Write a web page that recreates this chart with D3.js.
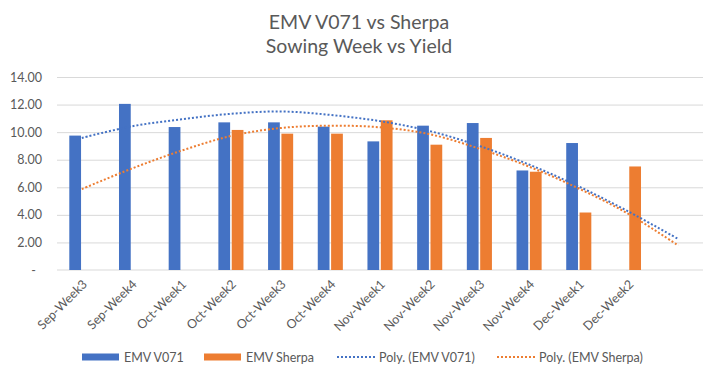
<!DOCTYPE html>
<html>
<head>
<meta charset="utf-8">
<script src="https://cdn.jsdelivr.net/npm/d3@7"></script>
<style>
  body { margin: 0; background: #fff; }
  text { font-family: Lato, "Open Sans", sans-serif; fill: #595959; }
</style>
</head>
<body>
<div id="chart"></div>
<script>
// Sowing weeks (the trendline runs one period past the last week)
const weeks = ["Sep-Week3", "Sep-Week4", "Oct-Week1", "Oct-Week2", "Oct-Week3", "Oct-Week4",
  "Nov-Week1", "Nov-Week2", "Nov-Week3", "Nov-Week4", "Dec-Week1", "Dec-Week2"];

// Yield per week
const v071 = [9.75, 12.05, 10.37, 10.71, 10.71, 10.4, 9.33, 10.47, 10.66, 7.22, 9.21, null];
const sherpa = [null, null, null, 10.16, 9.89, 9.89, 10.86, 9.09, 9.58, 7.13, 4.17, 7.51];

// Polynomial trendlines (13 periods)
const v071Trend = [9.58, 10.42, 10.93, 11.33, 11.5, 11.25, 10.8, 10.08, 9.0, 7.65, 6.06, 4.24, 2.25];
const sherpaTrend = [5.87, 7.35, 8.65, 9.72, 10.3, 10.47, 10.35, 9.85, 8.8, 7.5, 5.91, 4.07, 1.78];

const yTicks = [0, 2, 4, 6, 8, 10, 12, 14];

const width = 717, height = 376;
const margin = { top: 77, right: 14, bottom: 106, left: 57 };
const blue = "#4472C4", orange = "#ED7D31";

const svg = d3.select("#chart").append("svg")
    .attr("width", width)
    .attr("height", height);

// Title
const title = svg.append("text")
    .attr("text-anchor", "middle")
    .attr("font-size", 19.5);
title.append("tspan").attr("x", 359).attr("y", 29).text("EMV V071 vs Sherpa");
title.append("tspan").attr("x", 359).attr("y", 53).text("Sowing Week vs Yield");

const slots = weeks.concat([""]);
const x = d3.scaleBand()
    .domain(slots)
    .range([margin.left, width - margin.right]);

const inner = d3.scaleBand()
    .domain(["v071", "sherpa"])
    .range([12.3, x.bandwidth() - 12.3])
    .paddingInner(0.12);

const y = d3.scaleLinear()
    .domain([0, 14])
    .range([height - margin.bottom, margin.top]);

// Gridlines
svg.append("g")
    .attr("transform", `translate(${margin.left},0)`)
    .call(d3.axisLeft(y).tickValues(yTicks.slice(1)).tickSize(-(width - margin.left - margin.right)).tickFormat(""))
    .call(g => g.select(".domain").remove())
    .call(g => g.selectAll("line").attr("stroke", "#d9d9d9"));

// Y labels
svg.append("g")
    .attr("transform", `translate(42,0)`)
    .call(d3.axisLeft(y).tickValues(yTicks).tickSize(0).tickPadding(0)
      .tickFormat(d => d === 0 ? "-" : d3.format(".2f")(d)))
    .call(g => g.select(".domain").remove())
    .call(g => g.selectAll("text").attr("font-size", 12.5).attr("fill", "#595959").attr("font-family", "Lato"))
    .call(g => g.selectAll("text").filter(d => d === 0).attr("dx", -6));

// Baseline
svg.append("line")
    .attr("x1", margin.left).attr("x2", width - margin.right)
    .attr("y1", y(0)).attr("y2", y(0))
    .attr("stroke", "#d9d9d9");

// Bars
const series = [
  { key: "v071", values: v071, color: blue },
  { key: "sherpa", values: sherpa, color: orange }
];

series.forEach(s => {
  svg.append("g")
    .selectAll("rect")
    .data(weeks.map((w, i) => ({ week: w, value: s.values[i] })).filter(d => d.value != null))
    .enter()
    .append("rect")
    .attr("x", d => x(d.week) + inner(s.key))
    .attr("width", inner.bandwidth())
    .attr("y", d => y(d.value))
    .attr("height", d => y(0) - y(d.value))
    .attr("fill", s.color);
});

// Trendlines
const line = d3.line()
    .x((d, i) => x(slots[i]) + x.bandwidth() / 2)
    .y(d => y(d))
    .curve(d3.curveCatmullRom);

[{ values: v071Trend, color: blue }, { values: sherpaTrend, color: orange }].forEach(t => {
  svg.append("path")
    .datum(t.values)
    .attr("d", line)
    .attr("fill", "none")
    .attr("stroke", t.color)
    .attr("stroke-width", 2)
    .attr("stroke-dasharray", "2 2");
});

// X labels
svg.append("g")
    .selectAll("text")
    .data(weeks)
    .enter()
    .append("text")
    .attr("text-anchor", "end")
    .attr("font-size", 12.5)
    .attr("transform", d => `translate(${x(d) + x.bandwidth() / 2 + 6},${y(0) + 15}) rotate(-45)`)
    .text(d => d);

// Legend
const legend = [
  { label: "EMV V071", color: blue, type: "bar", x: 82 },
  { label: "EMV Sherpa", color: orange, type: "bar", x: 204 },
  { label: "Poly. (EMV V071)", color: blue, type: "line", x: 337 },
  { label: "Poly. (EMV Sherpa)", color: orange, type: "line", x: 497 }
];

const lg = svg.append("g").attr("transform", "translate(0,357)");
legend.forEach(item => {
  if (item.type === "bar") {
    lg.append("rect").attr("x", item.x).attr("y", -3.5).attr("width", 37).attr("height", 7).attr("fill", item.color);
  } else {
    lg.append("line").attr("x1", item.x).attr("x2", item.x + 38).attr("y1", 0).attr("y2", 0)
      .attr("stroke", item.color).attr("stroke-width", 2).attr("stroke-dasharray", "2 2");
  }
  lg.append("text").attr("x", item.x + 42).attr("y", 4.5).attr("font-size", 12.5).text(item.label);
});
</script>
</body>
</html>
